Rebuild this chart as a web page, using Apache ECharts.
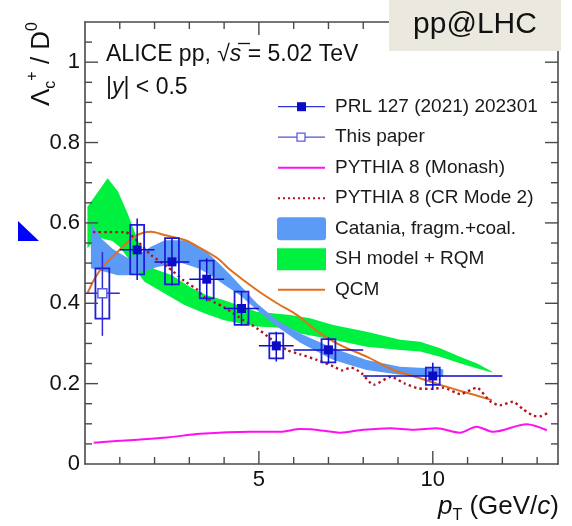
<!DOCTYPE html>
<html>
<head>
<meta charset="utf-8">
<script src="https://cdn.jsdelivr.net/npm/echarts@6/dist/echarts.min.js"></script>
<style>
  html, body { margin: 0; padding: 0; background: #fff; }
  #main { width: 572px; height: 526px; }
</style>
</head>
<body>
<div id="main"></div>
<script>
// ---- data ----
// PRL 127 (2021) 202301, filled squares
var prlX      = [1.5, 2.5, 3.5, 4.5, 5.5, 7, 10];
var prlY      = [0.533, 0.503, 0.46, 0.387, 0.294, 0.284, 0.219];
var prlBinLo  = [1, 2, 3, 4, 5, 6, 8];
var prlBinHi  = [2, 3, 4, 5, 6, 8, 12];
var prlStatLo = [0.458, 0.445, 0.405, 0.345, 0.255, 0.25, 0.184];
var prlStatHi = [0.611, 0.562, 0.512, 0.43, 0.329, 0.315, 0.252];
var prlSysLo  = [0.472, 0.447, 0.412, 0.346, 0.263, 0.253, 0.197];
var prlSysHi  = [0.595, 0.562, 0.506, 0.429, 0.325, 0.311, 0.24];

// This paper, open square
var newX      = [0.5];
var newY      = [0.425];
var newBinLo  = [0];
var newBinHi  = [1];
var newStatLo = [0.319];
var newStatHi = [0.528];
var newSysLo  = [0.362];
var newSysHi  = [0.487];

// PYTHIA 8 (Monash)
var monashX = [0.25, 1.4, 2.36, 3.31, 4.75, 5.61, 6.19, 6.57, 7.34, 8.0, 8.77, 9.44, 10.11, 10.78, 11.26, 11.74, 12.7, 13.28];
var monashY = [0.053, 0.06, 0.066, 0.075, 0.08, 0.08, 0.087, 0.086, 0.078, 0.085, 0.089, 0.085, 0.089, 0.078, 0.093, 0.08, 0.099, 0.084];

// PYTHIA 8 (CR Mode 2)
var crX = [0.23, 0.7, 1.16, 1.45, 1.9, 2.37, 2.85, 3.24, 3.41, 3.98, 4.56, 4.94, 5.32, 5.8, 6.19, 6.67, 7.14, 7.4, 7.65, 7.95, 8.3, 8.8, 9.2, 9.6, 10.0, 10.3, 10.8, 11.26, 11.65, 11.93, 12.3, 12.6, 12.9, 13.1, 13.3];
var crY = [0.577, 0.577, 0.577, 0.56, 0.52, 0.491, 0.456, 0.433, 0.416, 0.391, 0.358, 0.338, 0.313, 0.284, 0.273, 0.259, 0.243, 0.233, 0.24, 0.226, 0.197, 0.217, 0.2, 0.188, 0.187, 0.19, 0.174, 0.19, 0.156, 0.146, 0.155, 0.136, 0.12, 0.119, 0.127];

// QCM
var qcmX = [0.07, 0.3, 0.55, 0.94, 1.42, 1.9, 2.28, 2.85, 3.24, 3.81, 4.19, 4.94, 5.52, 6.09, 6.76, 7.34, 8.1, 8.87, 9.54, 10.21, 10.88, 11.7];
var qcmY = [0.425, 0.465, 0.495, 0.528, 0.566, 0.578, 0.57, 0.558, 0.541, 0.512, 0.482, 0.433, 0.4, 0.371, 0.325, 0.296, 0.267, 0.234, 0.216, 0.197, 0.18, 0.159];

// Catania, fragm.+coal. (band)
var catUpX = [0.17, 0.46, 0.8, 1.24, 1.5, 1.91, 2.3, 2.86, 3.14, 3.43, 3.81, 4.19, 4.46, 4.94, 5.52, 6.19, 7.14, 8.1, 9.06, 9.92, 10.3];
var catUpY = [0.603, 0.562, 0.535, 0.512, 0.52, 0.541, 0.557, 0.557, 0.549, 0.533, 0.503, 0.47, 0.445, 0.4, 0.358, 0.325, 0.288, 0.259, 0.242, 0.238, 0.236];
var catLoX = [0.17, 0.55, 0.94, 1.24, 1.7, 2.1, 2.78, 3.25, 3.62, 4.0, 4.46, 4.94, 5.52, 6.19, 7.14, 8.1, 9.06, 9.92, 10.3];
var catLoY = [0.487, 0.479, 0.47, 0.47, 0.479, 0.491, 0.5, 0.487, 0.47, 0.446, 0.42, 0.383, 0.342, 0.302, 0.259, 0.234, 0.222, 0.217, 0.218];

// SH model + RQM (band)
var shUpX = [0.07, 0.3, 0.65, 0.95, 1.24, 1.57, 1.75, 2.0, 2.5, 3.03, 3.5, 3.98, 4.94, 5.9, 6.47, 7.14, 8.1, 9.06, 9.64, 10.21, 10.78, 11.26, 11.7];
var shUpY = [0.64, 0.668, 0.711, 0.678, 0.62, 0.545, 0.5, 0.485, 0.47, 0.44, 0.42, 0.408, 0.379, 0.371, 0.363, 0.346, 0.329, 0.309, 0.304, 0.288, 0.267, 0.251, 0.23];
var shLoX = [0.07, 0.2, 0.46, 0.79, 1.0, 1.24, 1.7, 2.28, 2.86, 3.43, 4.0, 4.94, 5.9, 6.19, 7.14, 8.1, 9.06, 9.64, 10.21, 10.78, 11.26, 11.7];
var shLoY = [0.537, 0.55, 0.562, 0.555, 0.54, 0.512, 0.454, 0.425, 0.396, 0.375, 0.358, 0.342, 0.338, 0.325, 0.309, 0.292, 0.284, 0.28, 0.267, 0.251, 0.238, 0.228];

// ticks
var xLabelTicks = [5, 10];
var yLabelTicks = [0, 0.2, 0.4, 0.6, 0.8, 1];
var xMajorTicks = [5, 10];
var xMinorTicks = [1, 2, 3, 4, 6, 7, 8, 9, 11, 12, 13];
var yMajorTicks = [0.2, 0.4, 0.6, 0.8, 1];
var yMinorTicks = [0.05, 0.1, 0.15, 0.25, 0.3, 0.35, 0.45, 0.5, 0.55, 0.65, 0.7, 0.75, 0.85, 0.9, 0.95, 1.05];

// ---- styling ----
var FONT = 'Liberation Sans';
var AXIS_COLOR = '#4a4a4a';
var DATA_BLUE = '#0c0cc8';
var OPEN_BLUE = '#5a5ae8';
var CAT_COLOR = '#5b9bf5';
var SH_COLOR = '#00f040';
var QCM_COLOR = '#e0701c';
var CR_COLOR = '#b0141e';
var MONASH_COLOR = '#ff10f0';
var SYS_HALF = 0.2; // half width of systematic boxes, in GeV/c
var MAJOR_LEN = 13, MINOR_LEN = 7;

var XMIN = 0, XMAX = 13.6, YMIN = 0, YMAX = 1.1;
var GRID = { left: 85, right: 14, top: 22, bottom: 62 };

function zip(a, b) {
  return a.map(function (v, i) { return [v, b[i]]; });
}

function bandSeries(name, upX, upY, loX, loY, color, z) {
  return {
    type: 'custom', name: name, z: z, silent: true,
    xAxisIndex: 0, yAxisIndex: 0,
    data: [[upX[0], upY[0]]],
    renderItem: function (params, api) {
      var pts = [];
      for (var i = 0; i < upX.length; i++) pts.push(api.coord([upX[i], upY[i]]));
      for (var j = loX.length - 1; j >= 0; j--) pts.push(api.coord([loX[j], loY[j]]));
      return { type: 'polygon', shape: { points: pts }, style: { fill: color } };
    }
  };
}

function pointSeries(name, xs, ys, bl, bh, sl, sh, yl, yh, open) {
  var data = xs.map(function (x, i) {
    return [x, ys[i], bl[i], bh[i], sl[i], sh[i], yl[i], yh[i]];
  });
  return {
    type: 'custom', name: name, z: 10, silent: true,
    xAxisIndex: 0, yAxisIndex: 0,
    data: data,
    renderItem: function (params, api) {
      var x = api.value(0), y = api.value(1);
      var c = api.coord([x, y]);
      var l = api.coord([api.value(2), y]);
      var r = api.coord([api.value(3), y]);
      var st = api.coord([x, api.value(5)]);
      var sb = api.coord([x, api.value(4)]);
      var b1 = api.coord([x - SYS_HALF, api.value(7)]);
      var b2 = api.coord([x + SYS_HALF, api.value(6)]);
      var lineCol = open ? '#2a2ad8' : DATA_BLUE;
      return {
        type: 'group',
        children: [
          { type: 'rect', shape: { x: b1[0], y: b1[1], width: b2[0] - b1[0], height: b2[1] - b1[1] },
            style: { fill: 'none', stroke: '#1e1ed8', lineWidth: 1.8 } },
          { type: 'line', shape: { x1: l[0], y1: l[1], x2: r[0], y2: r[1] },
            style: { stroke: lineCol, lineWidth: 1.5 } },
          { type: 'line', shape: { x1: st[0], y1: st[1], x2: sb[0], y2: sb[1] },
            style: { stroke: lineCol, lineWidth: 1.5 } },
          { type: 'rect', shape: { x: c[0] - 4.5, y: c[1] - 4.5, width: 9, height: 9 },
            style: open ? { fill: '#fff', stroke: OPEN_BLUE, lineWidth: 1.5 } : { fill: DATA_BLUE } }
        ]
      };
    }
  };
}

function curve(name, xs, ys, color, width, type, smooth, z) {
  return {
    type: 'line', name: name, z: z, silent: true,
    xAxisIndex: 0, yAxisIndex: 0,
    data: zip(xs, ys),
    showSymbol: false, smooth: smooth,
    lineStyle: { color: color, width: width, type: type }
  };
}

// ROOT style inward ticks on all four sides, placed with api.coord
function tickSeries(vals, dim, len) {
  return {
    type: 'custom', z: 12, silent: true,
    xAxisIndex: 0, yAxisIndex: 0,
    data: vals.map(function (v) { return dim === 'x' ? [v, YMIN] : [XMIN, v]; }),
    renderItem: function (params, api) {
      var st = { stroke: AXIS_COLOR, lineWidth: 1.4 };
      var a, b;
      if (dim === 'x') {
        a = api.coord([api.value(0), YMIN]);
        b = api.coord([api.value(0), YMAX]);
        return { type: 'group', children: [
          { type: 'line', shape: { x1: a[0], y1: a[1], x2: a[0], y2: a[1] - len }, style: st },
          { type: 'line', shape: { x1: b[0], y1: b[1], x2: b[0], y2: b[1] + len }, style: st }
        ] };
      }
      a = api.coord([XMIN, api.value(1)]);
      b = api.coord([XMAX, api.value(1)]);
      return { type: 'group', children: [
        { type: 'line', shape: { x1: a[0], y1: a[1], x2: a[0] + len, y2: a[1] }, style: st },
        { type: 'line', shape: { x1: b[0], y1: b[1], x2: b[0] - len, y2: b[1] }, style: st }
      ] };
    }
  };
}

function xAx(grid, pos, labels) {
  return {
    gridIndex: grid, type: 'value', position: pos, min: XMIN, max: XMAX, interval: 5,
    axisLine: { show: true, onZero: false, lineStyle: { color: AXIS_COLOR, width: 1.6 } },
    axisTick: { show: false },
    axisLabel: labels ? {
      show: true, margin: 5, fontSize: 22, fontFamily: FONT, color: '#111',
      formatter: function (v) { return xLabelTicks.indexOf(v) >= 0 ? String(v) : ''; }
    } : { show: false },
    splitLine: { show: false }
  };
}

function yAx(grid, pos, labels) {
  return {
    gridIndex: grid, type: 'value', position: pos, min: YMIN, max: YMAX, interval: 0.2,
    axisLine: { show: true, onZero: false, lineStyle: { color: AXIS_COLOR, width: 1.6 } },
    axisTick: { show: false },
    axisLabel: labels ? {
      show: true, margin: 5, fontSize: 22, fontFamily: FONT, color: '#111',
      formatter: function (v) {
        for (var i = 0; i < yLabelTicks.length; i++) {
          if (Math.abs(yLabelTicks[i] - v) < 1e-6) return String(yLabelTicks[i]);
        }
        return '';
      }
    } : { show: false },
    splitLine: { show: false }
  };
}

// legend, drawn by hand in ROOT style
var LX0 = 278, LX1 = 325, LTX = 335;
var rows = [106.7, 137.2, 167.7, 198.2, 228.7, 259.2, 289.7];
var legendNames = ['PRL 127 (2021) 202301', 'This paper', 'PYTHIA 8 (Monash)', 'PYTHIA 8 (CR Mode 2)',
  'Catania, fragm.+coal.', 'SH model + RQM', 'QCM'];

var graphics = [];
legendNames.forEach(function (t, i) {
  graphics.push({ type: 'text', x: LTX, y: rows[i], z: 20,
    style: { text: t, fontSize: 19, fontFamily: FONT, fill: '#1a1a1a', verticalAlign: 'middle' } });
});
graphics.push(
  { type: 'line', shape: { x1: LX0, y1: rows[0], x2: LX1, y2: rows[0] }, style: { stroke: '#3030dd', lineWidth: 1.3 } },
  { type: 'rect', shape: { x: 297, y: rows[0] - 4.5, width: 9, height: 9 }, style: { fill: DATA_BLUE } },
  { type: 'line', shape: { x1: LX0, y1: rows[1], x2: LX1, y2: rows[1] }, style: { stroke: '#5050e0', lineWidth: 1.3 } },
  { type: 'rect', shape: { x: 297, y: rows[1] - 4, width: 8, height: 8 }, style: { fill: '#fff', stroke: OPEN_BLUE, lineWidth: 1.3 } },
  { type: 'line', shape: { x1: LX0, y1: rows[2], x2: LX1, y2: rows[2] }, style: { stroke: MONASH_COLOR, lineWidth: 2 } },
  { type: 'line', shape: { x1: LX0, y1: rows[3], x2: LX1, y2: rows[3] }, style: { stroke: CR_COLOR, lineWidth: 2, lineDash: [2, 3] } },
  { type: 'rect', shape: { x: 277, y: rows[4] - 11.5, width: 49, height: 23, r: 3 }, style: { fill: CAT_COLOR } },
  { type: 'rect', shape: { x: 277, y: rows[5] - 11, width: 49, height: 22 }, style: { fill: SH_COLOR } },
  { type: 'line', shape: { x1: LX0, y1: rows[6], x2: LX1, y2: rows[6] }, style: { stroke: QCM_COLOR, lineWidth: 2 } }
);

// annotations
graphics.push(
  { type: 'text', x: 106, y: 55, z: 20,
    style: { text: '{n|ALICE pp, √}{i|s}{n| = 5.02 TeV}', verticalAlign: 'middle',
      rich: { n: { fontSize: 23, fontFamily: FONT, fill: '#111' },
              i: { fontSize: 23, fontFamily: FONT, fontStyle: 'italic', fill: '#111' } } } },
  // bar over the s of the square root
  { type: 'line', shape: { x1: 238, y1: 43.5, x2: 250, y2: 43.5 }, style: { stroke: '#111', lineWidth: 1.3 }, z: 20 },
  { type: 'text', x: 106, y: 88, z: 20,
    style: { text: '{n||}{i|y}{n|| < 0.5}', verticalAlign: 'middle',
      rich: { n: { fontSize: 23, fontFamily: FONT, fill: '#111' },
              i: { fontSize: 23, fontFamily: FONT, fontStyle: 'italic', fill: '#111' } } } },
  // y axis title, rotated
  { type: 'text', x: 42, y: 22, rotation: Math.PI / 2, z: 20,
    style: { text: '{m|Λ}{sub|c}{sup|+}{m| / D}{sup|0}', align: 'right', verticalAlign: 'middle',
      rich: { m: { fontSize: 26, fontFamily: FONT, fill: '#111', lineHeight: 34 },
              sub: { fontSize: 16, fontFamily: FONT, fill: '#111', verticalAlign: 'bottom', lineHeight: 34 },
              sup: { fontSize: 16, fontFamily: FONT, fill: '#111', verticalAlign: 'top', lineHeight: 34 } } } },
  // x axis title
  { type: 'text', x: 559, y: 507, z: 20,
    style: { text: '{i|p}{sub|T}{m| (GeV/}{i|c}{m|)}', align: 'right', verticalAlign: 'middle',
      rich: { m: { fontSize: 26, fontFamily: FONT, fill: '#111', lineHeight: 34 },
              i: { fontSize: 26, fontFamily: FONT, fontStyle: 'italic', fill: '#111', lineHeight: 34 },
              sub: { fontSize: 16, fontFamily: FONT, fill: '#111', verticalAlign: 'bottom', lineHeight: 34 } } } },
  // pp@LHC tag
  { type: 'rect', shape: { x: 389, y: 0, width: 172, height: 51 }, style: { fill: '#ebe8df' }, z: 30 },
  { type: 'text', x: 475, y: 25, z: 31,
    style: { text: 'pp@LHC', fontSize: 30, fontFamily: FONT, fill: '#111', align: 'center', verticalAlign: 'middle' } },
  // blue slide marker
  { type: 'polygon', shape: { points: [[18, 221], [18, 241], [39, 241]] }, style: { fill: '#0000ff' } }
);

var chart = echarts.init(document.getElementById('main'), null, { renderer: 'canvas' });
chart.setOption({
  animation: false,
  backgroundColor: '#fff',
  textStyle: { fontFamily: FONT },
  grid: [GRID, GRID],
  xAxis: [xAx(0, 'bottom', true), xAx(1, 'top', false)],
  yAxis: [yAx(0, 'left', true), yAx(1, 'right', false)],
  series: [
    bandSeries('SH model + RQM', shUpX, shUpY, shLoX, shLoY, SH_COLOR, 1),
    bandSeries('Catania, fragm.+coal.', catUpX, catUpY, catLoX, catLoY, CAT_COLOR, 2),
    curve('PYTHIA 8 (Monash)', monashX, monashY, MONASH_COLOR, 2, 'solid', 0.3, 4),
    curve('QCM', qcmX, qcmY, QCM_COLOR, 2, 'solid', 0.3, 5),
    curve('PYTHIA 8 (CR Mode 2)', crX, crY, CR_COLOR, 2.4, [2.4, 3.2], 0.2, 6),
    pointSeries('This paper', newX, newY, newBinLo, newBinHi, newStatLo, newStatHi, newSysLo, newSysHi, true),
    pointSeries('PRL 127 (2021) 202301', prlX, prlY, prlBinLo, prlBinHi, prlStatLo, prlStatHi, prlSysLo, prlSysHi, false),
    tickSeries(xMajorTicks, 'x', MAJOR_LEN),
    tickSeries(xMinorTicks, 'x', MINOR_LEN),
    tickSeries(yMajorTicks, 'y', MAJOR_LEN),
    tickSeries(yMinorTicks, 'y', MINOR_LEN)
  ],
  graphic: graphics
});
</script>
</body>
</html>
